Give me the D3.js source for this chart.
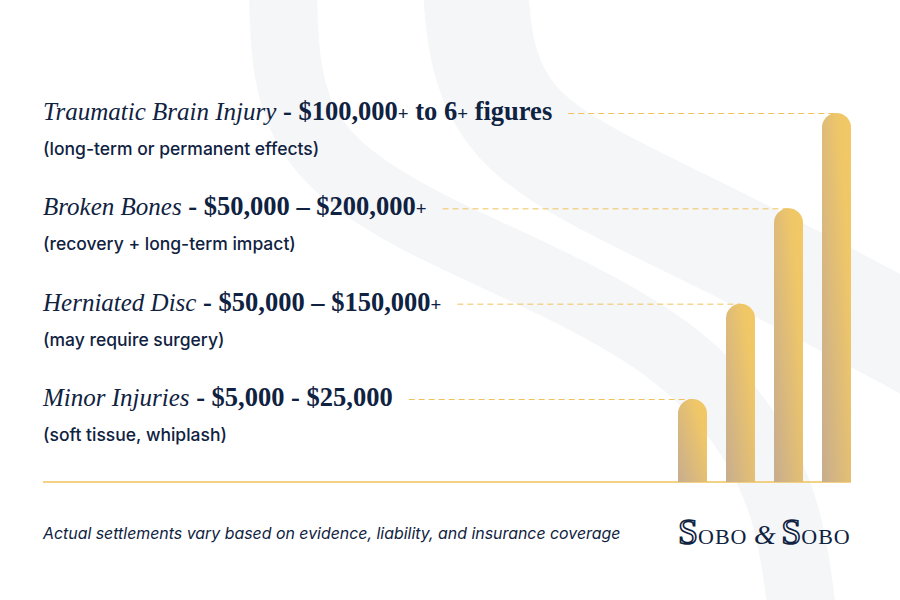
<!DOCTYPE html>
<html>
<head>
<meta charset="utf-8">
<script src="https://cdn.jsdelivr.net/npm/d3@7"></script>
<style>
  html, body { margin: 0; padding: 0; background: #fff; }
  svg { display: block; }
</style>
</head>
<body>
<script>
// settlement tiers, top row first
const injuries = ['Traumatic Brain Injury', 'Broken Bones', 'Herniated Disc', 'Minor Injuries'];
const ranges = ['$100,000+ to 6+ figures', '$50,000 \u2013 $200,000+', '$50,000 \u2013 $150,000+', '$5,000 - $25,000'];
const notes = ['(long-term or permanent effects)', '(recovery + long-term impact)', '(may require surgery)', '(soft tissue, whiplash)'];
const tiers = [4, 3, 2, 1];
const footnote = 'Actual settlements vary based on evidence, liability, and insurance coverage';

const width = 900, height = 600;
const navy = '#0f2241';
const gold = '#efc35c';

const svg = d3.select('body').append('svg')
  .attr('width', width)
  .attr('height', height);

const defs = svg.append('defs');
const grad = defs.append('linearGradient')
  .attr('id', 'barGrad')
  .attr('x1', 0).attr('y1', 0.9)
  .attr('x2', 1).attr('y2', 0.1);
grad.append('stop').attr('offset', '0%').attr('stop-color', '#c9ae8d');
grad.append('stop').attr('offset', '80%').attr('stop-color', '#f0c767');
grad.append('stop').attr('offset', '100%').attr('stop-color', '#f2c865');

svg.append('rect').attr('width', width).attr('height', height).attr('fill', '#fff');

// background swooshes
const swoosh = d3.line().curve(d3.curveBasis);
const bands = [
  { w: 68, pts: [[283, -20], [284, 60], [300, 125], [345, 178], [430, 228], [560, 285], [670, 345], [745, 420], [790, 510], [803, 620]] },
  { w: 105, pts: [[475, -20], [480, 60], [512, 125], [580, 172], [690, 225], [810, 285], [930, 350]] }
];
svg.append('g').selectAll('path')
  .data(bands)
  .join('path')
  .attr('d', d => swoosh(d.pts))
  .attr('fill', 'none')
  .attr('stroke', '#f5f6f8')
  .attr('stroke-width', d => d.w);

// scales
const baseline = 482;
const barOrder = injuries.slice().reverse();
const x = d3.scaleBand()
  .domain(barOrder)
  .range([678, 851])
  .paddingInner(0.396)
  .paddingOuter(0);
const y = d3.scaleLinear()
  .domain([1, 4])
  .range([399, 113]);

const rows = injuries.map((name, i) => ({ name, range: ranges[i], note: notes[i], tier: tiers[i] }));

// baseline
svg.append('line')
  .attr('x1', 43).attr('x2', x.range()[1])
  .attr('y1', baseline).attr('y2', baseline)
  .attr('stroke', gold)
  .attr('stroke-width', 1.3);

// labels
const left = 43;
const labels = svg.append('g').selectAll('g')
  .data(rows)
  .join('g')
  .attr('transform', d => `translate(${left},${y(d.tier)})`);

const titles = labels.append('text')
  .attr('y', 7)
  .attr('fill', navy)
  .style('font-family', '"Liberation Serif", "DejaVu Serif", serif')
  .style('font-size', '25px');

titles.append('tspan')
  .style('font-style', 'italic')
  .text(d => d.name);
titles.append('tspan')
  .style('font-weight', 'bold')
  .style('font-size', '26.5px')
  .text(' - ');
titles.each(function(d) {
  const t = d3.select(this);
  d.range.split(/(\+)/).filter(s => s.length).forEach(part => {
    t.append('tspan')
      .style('font-weight', 'bold')
      .style('font-size', part === '+' ? '19px' : '26.5px')
      .text(part);
  });
});

labels.append('text')
  .attr('y', 42)
  .attr('fill', navy)
  .style('font-family', 'Inter, "Noto Sans", sans-serif')
  .style('font-size', '17.5px')
  .style('font-weight', 500)
  .text(d => d.note);

// dashed leaders from label to bar top
titles.each(function(d) {
  d.textEnd = left + this.getComputedTextLength();
});
svg.append('g').selectAll('line')
  .data(rows)
  .join('line')
  .attr('x1', d => d.textEnd + 16)
  .attr('x2', d => x(d.name) + x.bandwidth() / 2)
  .attr('y1', d => y(d.tier) + 0.5)
  .attr('y2', d => y(d.tier) + 0.5)
  .attr('stroke', gold)
  .attr('stroke-width', 1)
  .attr('stroke-dasharray', '6,4');

// rounded-top bars
const r = x.bandwidth() / 2;
svg.append('g').selectAll('path')
  .data(rows)
  .join('path')
  .attr('fill', 'url(#barGrad)')
  .attr('d', d => {
    const x0 = x(d.name), x1 = x0 + x.bandwidth(), top = y(d.tier);
    return `M${x0},${baseline}V${top + r}A${r},${r} 0 0 1 ${x1},${top + r}V${baseline}Z`;
  });

// footnote
svg.append('text')
  .attr('x', left)
  .attr('y', 539)
  .attr('fill', navy)
  .style('font-family', 'Inter, "Noto Sans", sans-serif')
  .style('font-size', '15.9px')
  .style('font-style', 'italic')
  .text(footnote);

// logo
const logo = svg.append('text')
  .attr('x', 678)
  .attr('y', 544)
  .attr('fill', navy)
  .style('font-family', '"Liberation Serif", "DejaVu Serif", serif');
const bigS = { 'font-size': '36px', 'stroke': navy, 'stroke-width': 1.6, 'fill': '#fff' };
const addPart = (txt, opts) => {
  const ts = logo.append('tspan').text(txt);
  Object.entries(opts).forEach(([k, v]) => ts.style(k, v));
};
addPart('S', bigS);
addPart('OBO ', { 'font-size': '22px', 'letter-spacing': '1px' });
addPart('&', { 'font-size': '28px', 'font-style': 'italic' });
addPart(' ', { 'font-size': '22px' });
addPart('S', bigS);
addPart('OBO', { 'font-size': '22px', 'letter-spacing': '1px' });
</script>
</body>
</html>
